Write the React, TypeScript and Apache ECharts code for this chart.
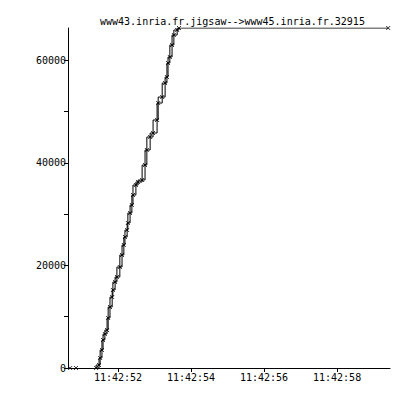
import React, { useEffect, useRef } from "react";
import * as echarts from "echarts";

// seconds after 11:42:00
const seqTimes = [50.69, 50.85, 51.40, 51.48, 51.51, 51.56, 51.59, 51.64, 51.70, 51.73, 51.78, 51.84, 51.86, 51.92, 51.97, 52.05, 52.11, 52.16, 52.19, 52.25, 52.27, 52.33, 52.38, 52.41, 52.49, 52.55, 52.66, 52.74, 52.79, 52.88, 52.96, 53.07, 53.10, 53.21, 53.29, 53.34, 53.37, 53.42, 53.48, 53.53, 53.62, 53.67, 59.40];
const seqValues = [0, 0, 0, 585, 1950, 3510, 5460, 6630, 7410, 9750, 11900, 13850, 15220, 16780, 17750, 19700, 22050, 24000, 25560, 26920, 28290, 30240, 31800, 33750, 35700, 36290, 36680, 39600, 42530, 45070, 45850, 48390, 51700, 52870, 55600, 56770, 59500, 60680, 63020, 64970, 65950, 66340, 66340];
const xTickSeconds = [52, 54, 56, 58];
const yTicks = [0, 10000, 20000, 30000, 40000, 50000, 60000];
const yLabels = [0, 20000, 40000, 60000];
const title = "www43.inria.fr.jigsaw-->www45.inria.fr.32915";

const FONT = "DejaVu Sans Mono";

export default function App() {
  const ref = useRef<HTMLDivElement>(null);
  useEffect(() => {
    document.body.style.margin = "0";
    const chart = echarts.init(ref.current!, null, { renderer: "svg" });
    const pts = seqTimes.map((t, i) => [t, seqValues[i]]);
    chart.setOption({
      animation: false,
      backgroundColor: "#fff",
      title: {
        text: title,
        left: 95,
        top: 11,
        textStyle: { fontFamily: FONT, fontSize: 10, fontWeight: "normal", color: "#000" },
      },
      grid: { left: 68, right: 6, top: 28, bottom: 27 },
      xAxis: {
        type: "value",
        min: 50.63,
        max: 59.45,
        axisLine: { lineStyle: { color: "#000", width: 1 } },
        splitLine: { show: false },
        axisTick: { length: 4, lineStyle: { color: "#000" }, customValues: xTickSeconds },
        axisLabel: {
          customValues: xTickSeconds,
          formatter: (v: number) => `11:42:${String(Math.round(v)).padStart(2, "0")}`,
          fontFamily: FONT,
          fontSize: 10,
          color: "#000",
          margin: 4,
        },
      },
      yAxis: {
        type: "value",
        min: 0,
        max: 66340,
        axisLine: { show: true, lineStyle: { color: "#000", width: 1 } },
        splitLine: { show: false },
        axisTick: { show: true, length: 4, lineStyle: { color: "#000" }, customValues: yTicks },
        axisLabel: {
          customValues: yLabels,
          formatter: (v: number) => String(v),
          fontFamily: FONT,
          fontSize: 10,
          color: "#000",
          margin: 2,
        },
      },
      series: [
        {
          type: "line",
          step: "end",
          data: pts.slice(2),
          showSymbol: false,
          lineStyle: { color: "#000", width: 1 },
          silent: true,
        },
        {
          type: "line",
          step: "start",
          data: pts.slice(2, pts.length - 1),
          showSymbol: false,
          lineStyle: { color: "#000", width: 1 },
          silent: true,
        },
        {
          type: "scatter",
          data: pts,
          symbol: "path://M0 0L10 10M10 0L0 10",
          symbolSize: 4,
          itemStyle: { color: "none", borderColor: "#000", borderWidth: 1 },
          silent: true,
        },
      ],
    });
    return () => chart.dispose();
  }, []);
  return <div ref={ref} style={{ width: 396, height: 395 }} />;
}
